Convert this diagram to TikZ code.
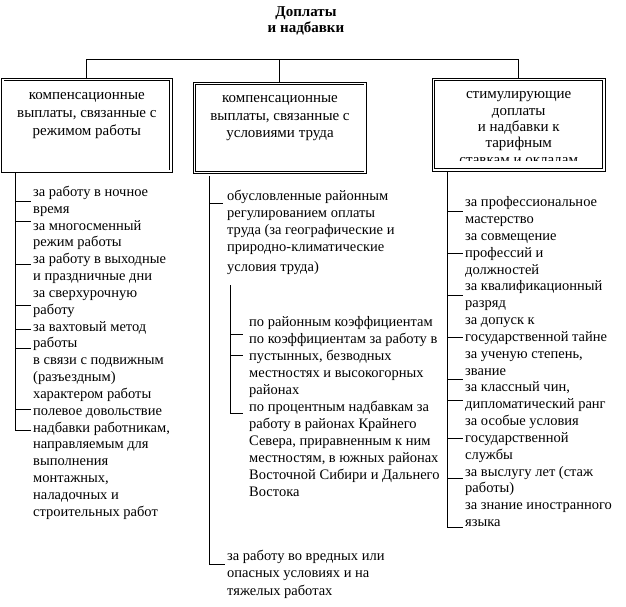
\documentclass[tikz,border=0pt]{standalone}
\usepackage{fontspec}
\setmainfont{Liberation Serif}
\begin{document}
\begin{tikzpicture}[x=1pt,y=-1pt,
  box/.style={draw=black, line width=0.9pt, double, double distance=1.6pt, inner sep=0pt},
  boxtext/.style={inner sep=0pt, align=center, font=\fontsize{15}{17.8}\selectfont},
  listtext/.style={inner sep=0pt, align=left, anchor=north west, font=\fontsize{14.5}{16.84}\selectfont},
  midtext/.style={inner sep=0pt, align=left, anchor=north west, font=\fontsize{14.5}{17}\selectfont},
  conn/.style={draw=black, line width=0.8pt},
  titletext/.style={inner sep=0pt, align=center, font=\fontsize{15}{16}\selectfont\bfseries}]
\useasboundingbox (0,0) rectangle (626,606);
\fill[white] (0,0) rectangle (626,606);

% title
\node[titletext, anchor=north] (title) at (306,5.5) {\strut Доплаты\\и надбавки};

% boxes
\node[box, minimum width=168.2pt, minimum height=91.8pt] (b1) at (86.85,125.35) {};
\node[box, minimum width=170.8pt, minimum height=88.8pt] (b2) at (279.85,127.9) {};
\node[box, minimum width=170.5pt, minimum height=90.5pt] (b3) at (518.7,124.7) {};

\node[boxtext, anchor=north] (b1t) at (86.85,87) {\strut компенсационные\\выплаты, связанные с\\режимом работы};
\node[boxtext, anchor=north] (b2t) at (280,89.6) {\strut компенсационные\\выплаты, связанные с\\условиями труда};
\begin{scope}
\clip (434,80) rectangle (604,160.8);
\node[boxtext, anchor=north, font=\fontsize{15}{16.3}\selectfont] (b3t) at (518.7,87.3) {\strut стимулирующие\\доплаты\\и надбавки к\\тарифным\\ставкам и окладам};
\end{scope}

% top connectors
\coordinate (hub) at (280,59.5);
\draw[conn] (b1.north) |- (hub) -| (b3.north);
\draw[conn] (b2.north) -- (b2.north |- hub);

% left column
\node[listtext] (t1) at (33,184.4) {\strut за работу в ночное\\время\\за многосменный\\режим работы\\за работу в выходные\\и праздничные дни\\за сверхурочную\\работу\\за вахтовый метод\\работы\\в связи с подвижным\\(разъездным)\\характером работы\\полевое довольствие\\надбавки работникам,\\направляемым для\\выполнения\\монтажных,\\наладочных и\\строительных работ};
\coordinate (s1) at (15,173);
\foreach \y [count=\i] in {201.7,221.7,264.3,305,329,348.3,409.3} {
  \coordinate (l\i) at (31,\y);
  \draw[conn] (s1 |- l\i) -- (l\i);
}
\coordinate (lend) at (31,430);
\draw[conn] (s1) |- (lend);

% middle column
\node[midtext] (m1) at (227,187.9) {\strut обусловленные районным\\регулированием оплаты\\труда (за географические и\\природно-климатические\\[3pt]условия труда)};
\node[midtext] (m2) at (249,314.6) {\strut по районным коэффициентам\\по коэффициентам за работу в\\пустынных, безводных\\местностях и высокогорных\\районах\\по процентным надбавкам за\\работу в районах Крайнего\\Севера, приравненным к ним\\местностям, в южных районах\\Восточной Сибири и Дальнего\\Востока};
\node[midtext, font=\fontsize{14.5}{17.5}\selectfont] (m3) at (227,547.7) {\strut за работу во вредных или\\опасных условиях и на\\тяжелых работах};
\coordinate (s2) at (209.5,176);
\coordinate (mt1) at (223,203.3);
\draw[conn] (s2 |- mt1) -- (mt1);
\coordinate (mend) at (225,564);
\draw[conn] (s2) |- (mend);
\coordinate (s3) at (230.7,285);
\foreach \y [count=\i] in {334,355} {
  \coordinate (n\i) at (243,\y);
  \draw[conn] (s3 |- n\i) -- (n\i);
}
\coordinate (nend) at (243,413);
\draw[conn] (s3) |- (nend);

% right column
\node[listtext] (r1) at (465,194.7) {\strut за профессиональное\\мастерство\\за совмещение\\профессий и\\должностей\\за квалификационный\\разряд\\за допуск к\\государственной тайне\\за ученую степень,\\звание\\за классный чин,\\дипломатический ранг\\за особые условия\\государственной\\службы\\за выслугу лет (стаж\\работы)\\за знание иностранного\\языка};
\coordinate (s4) at (447.3,172);
\foreach \y [count=\i] in {211,253.3,295,337.7,379,400,438.3,478.3} {
  \coordinate (r\i) at (463,\y);
  \draw[conn] (s4 |- r\i) -- (r\i);
}
\coordinate (rend) at (463,527.7);
\draw[conn] (s4) |- (rend);
\end{tikzpicture}
\end{document}
